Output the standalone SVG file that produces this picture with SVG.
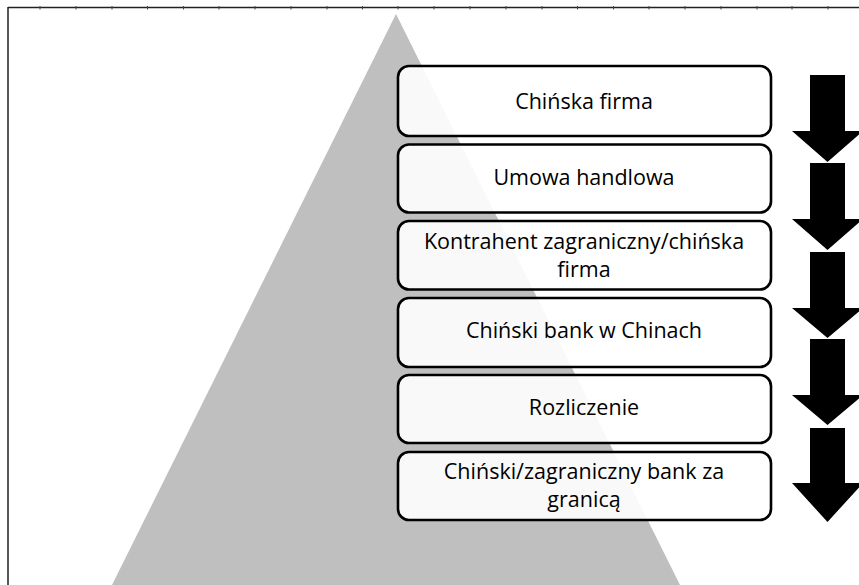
<svg xmlns="http://www.w3.org/2000/svg" width="859" height="585" viewBox="0 0 859 585">
<style>
.box{fill:#ffffff;fill-opacity:0.9;stroke:#000;stroke-width:2.6}
.lbl{font-family:"Open Sans","Liberation Sans",sans-serif;font-size:21.5px;fill:#000;text-anchor:middle}
.arr{fill:#000}
</style>
<rect x="0" y="0" width="859" height="585" fill="#fff"/>
<g id="frame">
<path d="M8 7.5H859M8 7V585" stroke="#222" stroke-width="1.5" fill="none"/>
<path d="M40 6V9.5M76 6V9.5M112 6V9.5M147.5 6V9.5M183.5 6V9.5M219 6V9.5M255 6V9.5M291 6V9.5M327 6V9.5M362.5 6V9.5M398 6V9.5M434 6V9.5M470 6V9.5M506 6V9.5M542 6V9.5M577.5 6V9.5M613.5 6V9.5M649 6V9.5M685 6V9.5M721 6V9.5M757 6V9.5M792 6V9.5M828 6V9.5" stroke="#444" stroke-width="1" fill="none"/>
</g>
<g id="pyramid">
<polygon points="396,14 112,585 680,585" fill="#bfbfbf"/>
</g>
<g id="node1"><rect class="box" x="398" y="66" width="373" height="70" rx="11"/><text class="lbl" x="584" y="109">Chińska firma</text></g>
<g id="node2"><rect class="box" x="398" y="144.5" width="373" height="68" rx="11"/><text class="lbl" x="584" y="185">Umowa handlowa</text></g>
<g id="node3"><rect class="box" x="398" y="221" width="373" height="68.5" rx="11"/><text class="lbl" x="584" y="249">Kontrahent zagraniczny/chińska</text><text class="lbl" x="584" y="277">firma</text></g>
<g id="node4"><rect class="box" x="398" y="298" width="373" height="69" rx="11"/><text class="lbl" x="584" y="338">Chiński bank w Chinach</text></g>
<g id="node5"><rect class="box" x="398" y="375" width="373" height="68" rx="11"/><text class="lbl" x="584" y="415">Rozliczenie</text></g>
<g id="node6"><rect class="box" x="398" y="452" width="373" height="68" rx="11"/><text class="lbl" x="584" y="479">Chiński/zagraniczny bank za</text><text class="lbl" x="584" y="507">granicą</text></g>
<g id="connectors">
<polygon class="arr" points="810,75 845,75 845,131 863,131 827.5,162 792,131 810,131"/>
<polygon class="arr" points="810,163 845,163 845,219 863,219 827.5,250 792,219 810,219"/>
<polygon class="arr" points="810,252 845,252 845,308 863,308 827.5,338 792,308 810,308"/>
<polygon class="arr" points="810,339 845,339 845,395 863,395 827.5,425 792,395 810,395"/>
<polygon class="arr" points="810,428 845,428 845,483 863,483 827.5,522 792,483 810,483"/>
</g>
</svg>
